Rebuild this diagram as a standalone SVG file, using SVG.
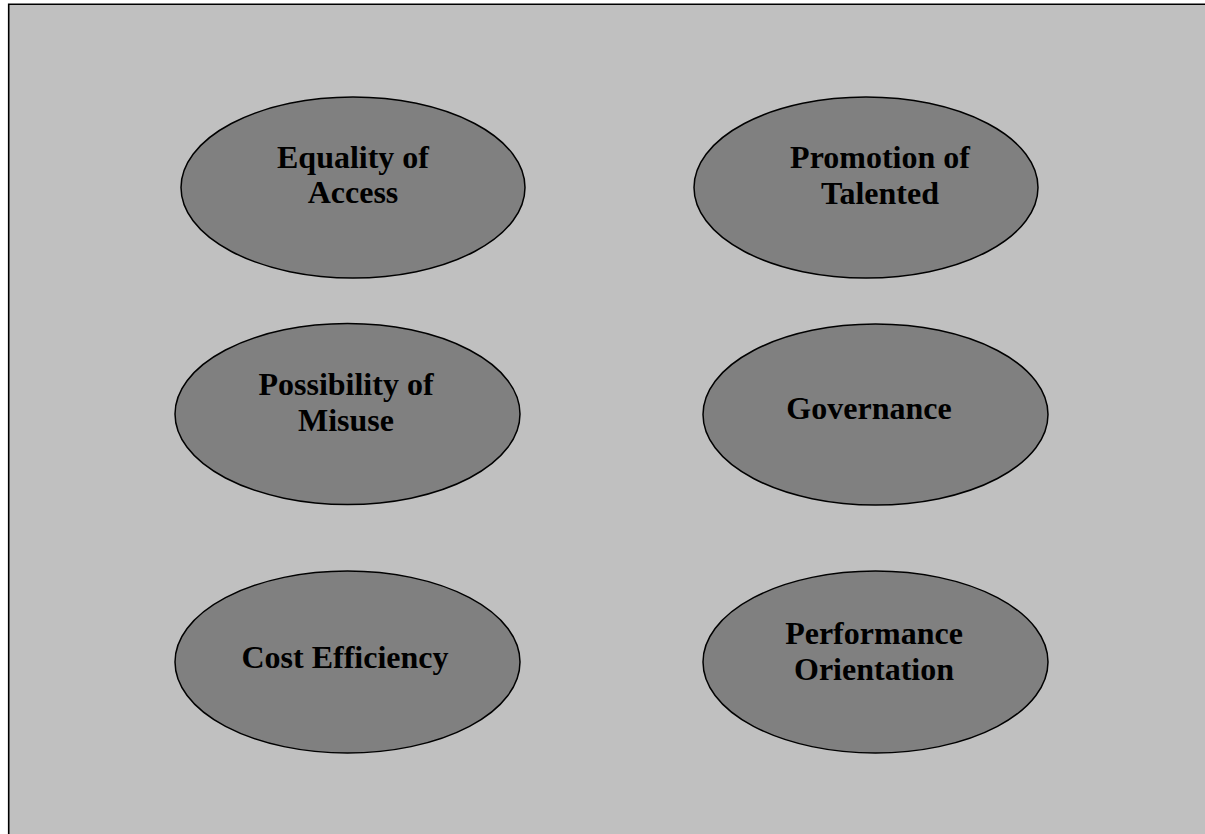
<svg xmlns="http://www.w3.org/2000/svg" width="1205" height="834" viewBox="0 0 1205 834">
<style>
.bg{fill:#c0c0c0;}
.frame{stroke:#000;stroke-width:1.6;fill:none;}
.node ellipse{fill:#808080;stroke:#000;stroke-width:1.5;}
.node text{font-family:"Liberation Serif","Times New Roman",serif;font-weight:bold;font-size:32px;fill:#000;text-anchor:middle;}
</style>
<rect x="0" y="0" width="1205" height="834" fill="#ffffff"/>
<rect class="bg" x="8.7" y="4.2" width="1197" height="830"/>
<path class="frame" d="M8.7 834 V4.2 H1205"/>
<g id="connectors"></g>
<g id="equality" class="node">
<ellipse cx="353" cy="187.5" rx="172" ry="90.5"/>
<text x="353" y="168">Equality of</text>
<text x="353" y="203">Access</text>
</g>
<g id="promotion" class="node">
<ellipse cx="866" cy="187.5" rx="172" ry="90.5"/>
<text x="880" y="168">Promotion of</text>
<text x="880" y="204">Talented</text>
</g>
<g id="possibility" class="node">
<ellipse cx="347.5" cy="414" rx="172.5" ry="90.5"/>
<text x="346" y="395">Possibility of</text>
<text x="346" y="431">Misuse</text>
</g>
<g id="governance" class="node">
<ellipse cx="875.5" cy="414.5" rx="172.5" ry="90.5"/>
<text x="869" y="419">Governance</text>
</g>
<g id="cost" class="node">
<ellipse cx="347.5" cy="662" rx="172.5" ry="91"/>
<text x="345" y="668">Cost Efficiency</text>
</g>
<g id="performance" class="node">
<ellipse cx="875.5" cy="662" rx="172.5" ry="91"/>
<text x="874" y="644">Performance</text>
<text x="874" y="680">Orientation</text>
</g>
</svg>
